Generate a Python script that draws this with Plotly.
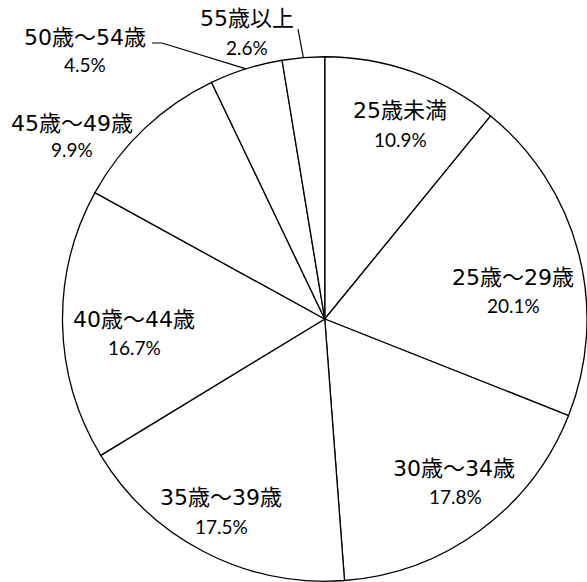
import math
import plotly.graph_objects as go

# ---- data ----
labels = ["25歳未満", "25歳～29歳", "30歳～34歳", "35歳～39歳",
          "40歳～44歳", "45歳～49歳", "50歳～54歳", "55歳以上"]
values = [10.9, 20.1, 17.8, 17.5, 16.7, 9.9, 4.5, 2.6]
pct_text = [f"{v:.1f}%" for v in values]

# ---- layout (pixels) ----
W, H = 587, 582
CX, CY, R = 325.0, 319.0, 262.5
label_pos = [(400, 110), (513, 277), (454, 468), (221, 497),
             (134, 319), (72, 123), (85, 37), (247, 18)]
pct_pos = [(400, 139), (513, 305), (455, 496), (221, 526),
           (134, 347), (72, 149), (85, 64), (247, 47)]

def px(x):
    return x / W

def py(y):
    return 1 - y / H

x0 = max(0.0, (CX - R) / W)
x1 = min(1.0, (CX + R) / W)
y0 = max(0.0, (H - CY - R) / H)
y1 = min(1.0, (H - CY + R) / H)

fig = go.Figure(go.Pie(
    labels=labels,
    values=values,
    sort=False,
    direction="clockwise",
    rotation=0,
    textinfo="none",
    hoverinfo="label+percent",
    marker=dict(colors=["white"] * len(values),
                line=dict(color="black", width=1.3)),
    domain=dict(x=[x0, x1], y=[y0, y1]),
    showlegend=False,
))

# actual pie geometry (plotly uses min of domain sizes)
dw = (x1 - x0) * W
dh = (y1 - y0) * H
r_pie = min(dw, dh) / 2
cxp = (x0 + x1) / 2 * W
cyp = H - (y0 + y1) / 2 * H

LABEL_FONT = "DejaVu Sans, Noto Sans CJK JP, sans-serif"
PCT_FONT = "Lato, sans-serif"

annotations = []
for lab, pct, (lx, ly), (qx, qy) in zip(labels, pct_text, label_pos, pct_pos):
    annotations.append(dict(x=px(lx), y=py(ly), xref="paper", yref="paper",
                            text=lab, showarrow=False, xanchor="center", yanchor="middle",
                            font=dict(family=LABEL_FONT, size=22, color="black")))
    annotations.append(dict(x=px(qx), y=py(qy), xref="paper", yref="paper",
                            text=pct, showarrow=False, xanchor="center", yanchor="middle",
                            font=dict(family=PCT_FONT, size=19, color="black")))

# leader lines for the two small slices
cum = [sum(values[:i]) for i in range(len(values))]
total = sum(values)

def edge(i):
    th = (cum[i] + values[i] / 2) / total * 2 * math.pi
    return cxp + r_pie * math.sin(th), cyp - r_pie * math.cos(th)

shapes = []
ex, ey = edge(6)
shapes.append(dict(type="path", xref="paper", yref="paper",
                   path=f"M {px(152)},{py(43)} L {px(162)},{py(43)} L {px(ex)},{py(ey)}",
                   line=dict(color="black", width=1.2)))
ex, ey = edge(7)
shapes.append(dict(type="path", xref="paper", yref="paper",
                   path=f"M {px(298)},{py(29)} L {px(ex)},{py(ey)}",
                   line=dict(color="black", width=1.2)))

fig.update_layout(
    width=W, height=H,
    margin=dict(l=0, r=0, t=0, b=0),
    paper_bgcolor="white",
    plot_bgcolor="white",
    annotations=annotations,
    shapes=shapes,
)

fig.write_html("out.html",
               config={"displayModeBar": False},
               post_script="document.body.style.margin='0';document.body.style.overflow='hidden';")
